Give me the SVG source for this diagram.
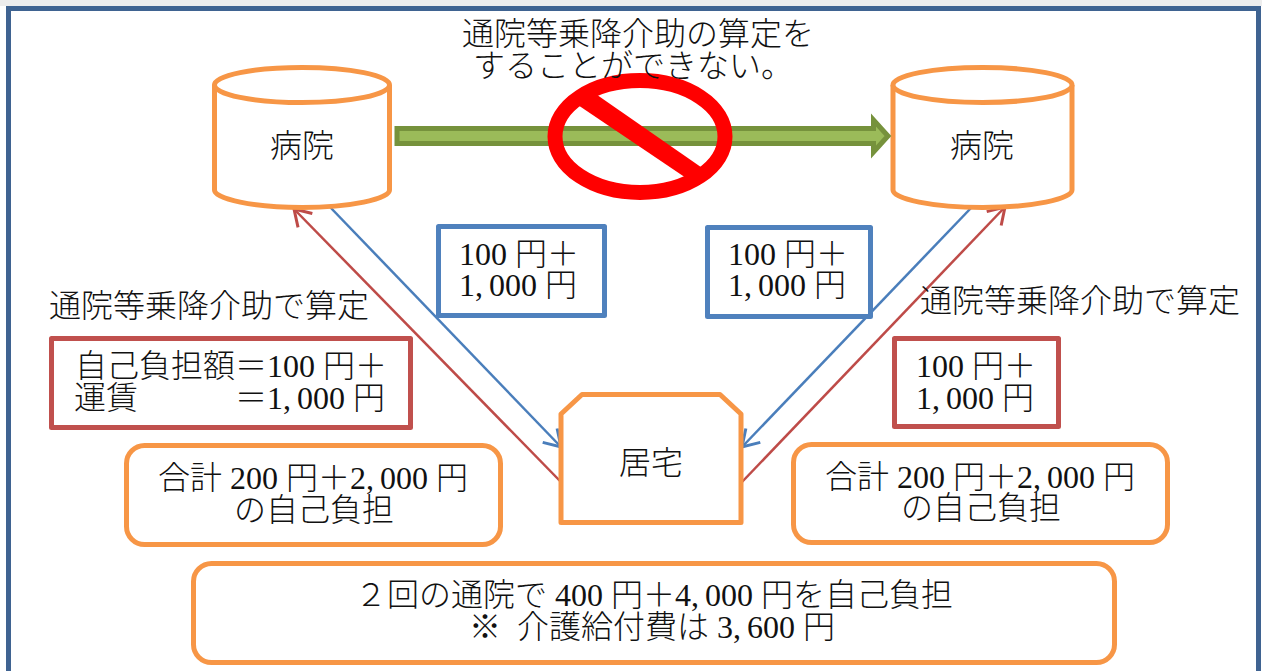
<svg xmlns="http://www.w3.org/2000/svg" width="1262" height="671" viewBox="0 0 1262 671">
<style>
text{font-family:"Liberation Serif","Noto Sans CJK JP",serif;font-size:32px;font-weight:300;fill:#111}
.m{text-anchor:middle}
.o{fill:#fff;stroke:#F79646;stroke-width:5;stroke-linejoin:round}
.b{fill:#fff;stroke:#4F81BD;stroke-width:5;stroke-linejoin:round}
.r{fill:#fff;stroke:#C0504D;stroke-width:5;stroke-linejoin:round}
.lb{fill:none;stroke:#4A7EBB;stroke-width:2.5}
.lr{fill:none;stroke:#BE4B48;stroke-width:2.5}
</style>
<defs>
<marker id="ab" viewBox="0 0 20 24" refX="18" refY="12" markerWidth="20" markerHeight="24" markerUnits="userSpaceOnUse" orient="auto"><path d="M2 2L18 12L2 22" fill="none" stroke="#4A7EBB" stroke-width="3"/></marker>
<marker id="ar" viewBox="0 0 20 24" refX="18" refY="12" markerWidth="20" markerHeight="24" markerUnits="userSpaceOnUse" orient="auto"><path d="M2 2L18 12L2 22" fill="none" stroke="#BE4B48" stroke-width="3"/></marker>
</defs>
<rect width="1262" height="671" fill="#fff"/>
<rect x="0" y="0" width="1262" height="6" fill="#EDEDED"/>
<g id="frame"><rect x="8.500" y="8.500" width="1250" height="680" fill="#fff" stroke="#3F6391" stroke-width="5"/></g>
<g id="connectors">
<path class="lb" d="M330 207L561 447" marker-end="url(#ab)"/>
<path class="lr" d="M561 482L294 209" marker-end="url(#ar)"/>
<path class="lb" d="M971 208L742 447" marker-end="url(#ab)"/>
<path class="lr" d="M742 482L1005 207" marker-end="url(#ar)"/>
</g>
<g id="hospital-left">
<path class="o" d="M214.500 85V190C214.500 199 254 207.500 302 207.500S389.500 199 389.500 190V85"/>
<ellipse class="o" cx="302" cy="85" rx="87.500" ry="17.500"/>
<text class="m" x="302" y="157">病院</text>
</g>
<g id="hospital-right">
<path class="o" d="M893 85V190C893 199 933 207.500 982.500 207.500S1072 199 1072 190V85"/>
<ellipse class="o" cx="982.500" cy="85" rx="89.500" ry="17.500"/>
<text class="m" x="982" y="157">病院</text>
</g>
<g id="forbidden-arrow">
<path d="M397 128.500H873.500V120L888 136L873.500 152V143.500H397Z" fill="#9BBB59" stroke="#76923C" stroke-width="5"/>
<ellipse cx="640" cy="136.500" rx="85" ry="56" fill="none" stroke="#FF0000" stroke-width="15"/>
<path d="M572 101L590 90L708 172L692 182Z" fill="#FF0000"/>
</g>
<g id="title">
<text class="m" x="638" y="45">通院等乗降介助の算定を</text>
<text class="m" x="633" y="77">することができない。</text>
</g>
<g id="home">
<path class="o" d="M561 414L582 394.500H720L741 414V522.500H561Z"/>
<text class="m" x="651" y="474">居宅</text>
</g>
<g id="box-blue-left">
<rect class="b" x="438.500" y="226.500" width="166" height="89"/>
<text x="459" y="265">100 円＋</text>
<text x="459" y="296">1,<tspan dx="6">000 円</tspan></text>
</g>
<g id="box-blue-right">
<rect class="b" x="707.500" y="227.500" width="163" height="89"/>
<text x="728" y="265">100 円＋</text>
<text x="728" y="296">1,<tspan dx="6">000 円</tspan></text>
</g>
<g id="label-left"><text x="49" y="317">通院等乗降介助で算定</text></g>
<g id="label-right"><text x="920" y="312">通院等乗降介助で算定</text></g>
<g id="box-red-left">
<rect class="r" x="51.500" y="338.500" width="359" height="89"/>
<text x="75" y="377">自己負担額＝100 円＋</text>
<text x="74" y="409">運賃</text>
<text x="235" y="409">＝1,<tspan dx="6">000 円</tspan></text>
</g>
<g id="box-red-right">
<rect class="r" x="894.500" y="338.500" width="164" height="88"/>
<text x="916" y="377">100 円＋</text>
<text x="916" y="409">1,<tspan dx="6">000 円</tspan></text>
</g>
<g id="sum-left">
<rect class="o" x="126.500" y="445.500" width="374" height="99" rx="18"/>
<text class="m" x="313" y="489">合計 200 円＋2,<tspan dx="6">000 円</tspan></text>
<text class="m" x="314" y="521">の自己負担</text>
</g>
<g id="sum-right">
<rect class="o" x="793.500" y="444.500" width="374" height="98" rx="18"/>
<text class="m" x="980" y="488">合計 200 円＋2,<tspan dx="6">000 円</tspan></text>
<text class="m" x="981" y="519">の自己負担</text>
</g>
<g id="total">
<rect class="o" x="193.500" y="563.500" width="921" height="99" rx="18"/>
<text class="m" x="654" y="606">２回の通院で 400 円＋4,<tspan dx="6">000 円</tspan>を自己負担</text>
<text class="m" x="652" y="638">※ <tspan dx="8">介護給付費は 3,</tspan><tspan dx="6">600 円</tspan></text>
</g>
</svg>
